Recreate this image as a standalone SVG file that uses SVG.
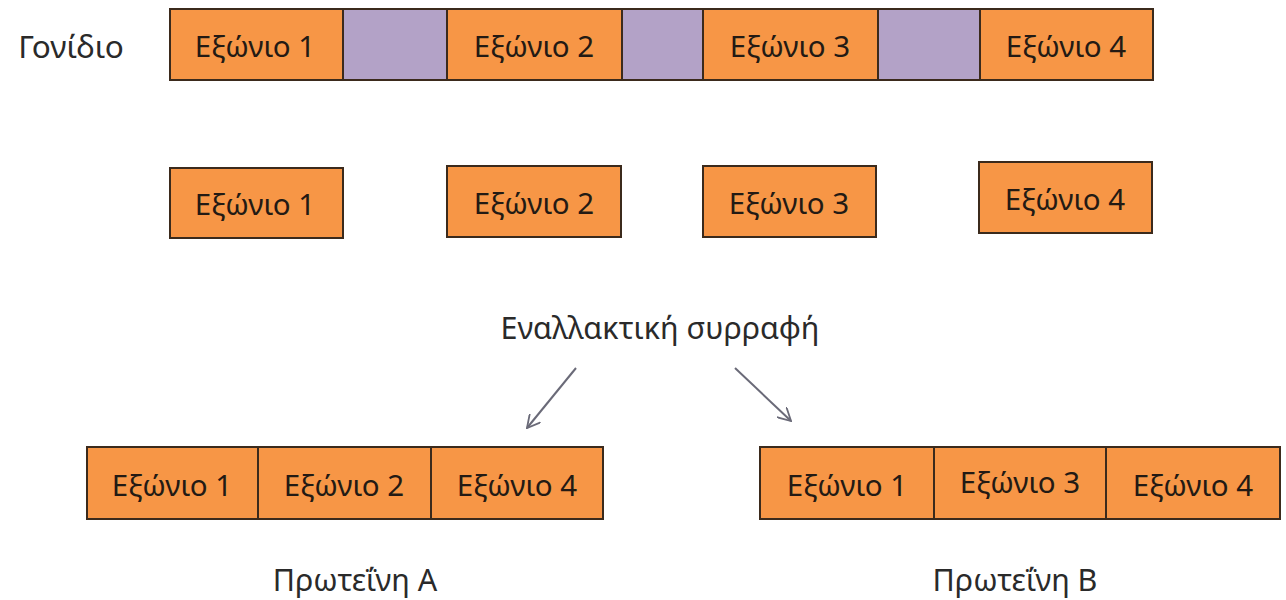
<svg xmlns="http://www.w3.org/2000/svg" width="1286" height="600" viewBox="0 0 1286 600">
<style>
.ex{fill:#F79646;stroke:#3b2a1c;stroke-width:2}
.in{fill:#B3A2C7;stroke:#3b2a1c;stroke-width:2}
.t{font-family:"Noto Sans","Open Sans",sans-serif;font-size:29.5px;fill:#231a14;text-anchor:middle}
.l{font-family:"Noto Sans","Open Sans",sans-serif;font-size:30.5px;fill:#2a2a2a;text-anchor:middle}
.c{fill:none;stroke:#6a6a78;stroke-width:2}
</style>
<defs>
<marker id="ah" viewBox="0 0 14 14" refX="13" refY="7" markerWidth="14" markerHeight="14" markerUnits="userSpaceOnUse" orient="auto">
<path d="M0,0 L13,7 L0,14" fill="none" stroke="#6a6a78" stroke-width="1.8"/>
</marker>
</defs>
<rect width="1286" height="600" fill="#fff"/>
<g id="gene">
<text class="l" x="71" y="58" style="font-size:31.5px">Γονίδιο</text>
<rect class="ex" x="170" y="9" width="173" height="71"/>
<rect class="in" x="343" y="9" width="104" height="71"/>
<rect class="ex" x="447" y="9" width="175" height="71"/>
<rect class="in" x="622" y="9" width="81" height="71"/>
<rect class="ex" x="703" y="9" width="175" height="71"/>
<rect class="in" x="878" y="9" width="102" height="71"/>
<rect class="ex" x="980" y="9" width="173" height="71"/>
<text class="t" x="255" y="57">Εξώνιο 1</text>
<text class="t" x="534" y="57">Εξώνιο 2</text>
<text class="t" x="790" y="57">Εξώνιο 3</text>
<text class="t" x="1066" y="57">Εξώνιο 4</text>
</g>
<g id="exon1"><rect class="ex" x="170" y="168" width="173" height="70"/><text class="t" x="255" y="215">Εξώνιο 1</text></g>
<g id="exon2"><rect class="ex" x="447" y="166" width="174" height="71"/><text class="t" x="534" y="214">Εξώνιο 2</text></g>
<g id="exon3"><rect class="ex" x="703" y="166" width="173" height="71"/><text class="t" x="789" y="214">Εξώνιο 3</text></g>
<g id="exon4"><rect class="ex" x="979" y="162" width="173" height="71"/><text class="t" x="1065" y="210">Εξώνιο 4</text></g>
<g id="splicing"><text class="l" x="660" y="339">Εναλλακτική συρραφή</text></g>
<g id="connectors">
<line class="c" x1="576" y1="368" x2="527" y2="428" marker-end="url(#ah)"/>
<line class="c" x1="735" y1="368" x2="791" y2="421" marker-end="url(#ah)"/>
</g>
<g id="proteinA">
<rect class="ex" x="87" y="447" width="171" height="72"/>
<rect class="ex" x="258" y="447" width="173" height="72"/>
<rect class="ex" x="431" y="447" width="172" height="72"/>
<text class="t" x="172" y="496">Εξώνιο 1</text>
<text class="t" x="344" y="496">Εξώνιο 2</text>
<text class="t" x="517" y="496">Εξώνιο 4</text>
<text class="l" x="355" y="591">Πρωτεΐνη Α</text>
</g>
<g id="proteinB">
<rect class="ex" x="760" y="447" width="174" height="72"/>
<rect class="ex" x="934" y="447" width="172" height="72"/>
<rect class="ex" x="1106" y="447" width="174" height="72"/>
<text class="t" x="847" y="496">Εξώνιο 1</text>
<text class="t" x="1020" y="493">Εξώνιο 3</text>
<text class="t" x="1193" y="496">Εξώνιο 4</text>
<text class="l" x="1015" y="591">Πρωτεΐνη Β</text>
</g>
</svg>
